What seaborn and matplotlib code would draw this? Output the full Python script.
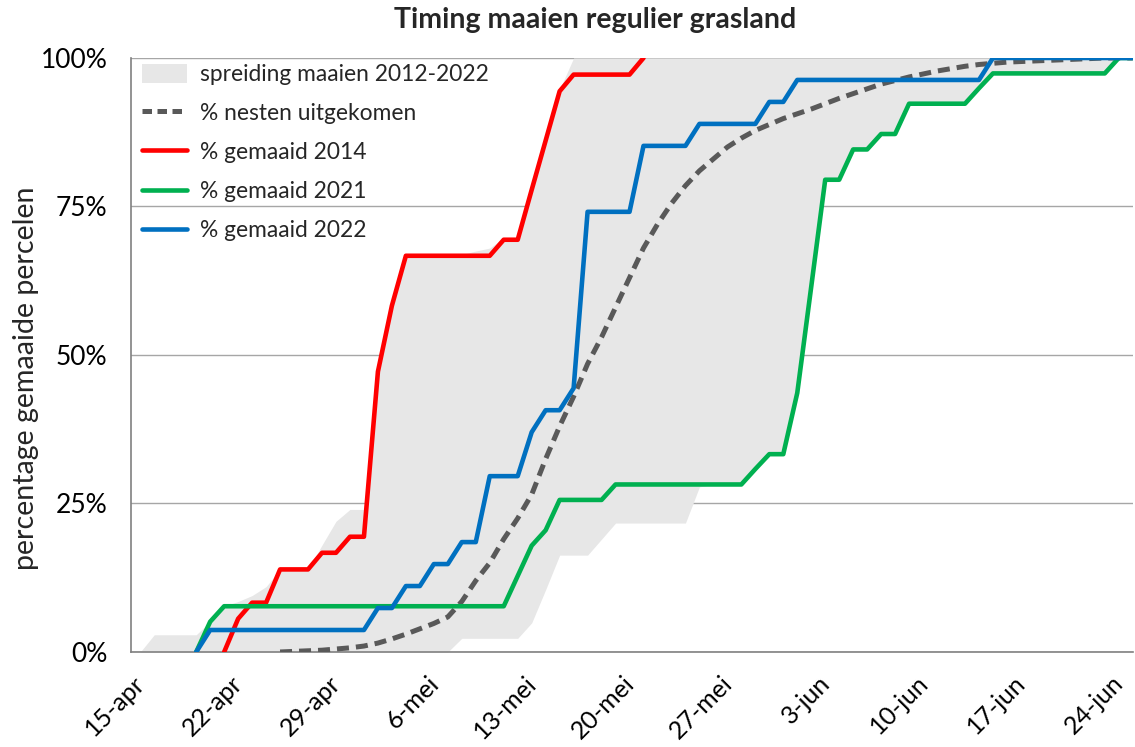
import numpy as np
import pandas as pd
import matplotlib
matplotlib.use("Agg")
import matplotlib.pyplot as plt
import matplotlib.dates as mdates
from matplotlib.patches import Patch
from matplotlib.lines import Line2D
import seaborn as sns

# ---------------- data (day index d = days since 15-apr, values in %) ----------------
start_date = "2022-04-15"

red_days = list(range(6, 37))
red_vals = [0, 5.6, 8.3, 8.3, 13.9, 13.9, 13.9, 16.7, 16.7, 19.4, 19.4, 47.2, 58.3, 66.7,
            66.7, 66.7, 66.7, 66.7, 66.7, 66.7, 69.4, 69.4, 77.8, 86.1, 94.4, 97.2,
            97.2, 97.2, 97.2, 97.2, 100]

green_days = list(range(4, 72))
green_vals = [0, 5.1, 7.7, 7.7, 7.7, 7.7, 7.7, 7.7, 7.7, 7.7, 7.7, 7.7, 7.7, 7.7, 7.7, 7.7,
              7.7, 7.7, 7.7, 7.7, 7.7, 7.7, 7.7, 12.8, 17.9, 20.5, 25.6, 25.6, 25.6, 25.6,
              28.2, 28.2, 28.2, 28.2, 28.2, 28.2, 28.2, 28.2, 28.2, 28.2, 30.8, 33.3, 33.3,
              43.6, 61.5, 79.5, 79.5, 84.6, 84.6, 87.2, 87.2, 92.3, 92.3, 92.3, 92.3, 92.3,
              94.9, 97.4, 97.4, 97.4, 97.4, 97.4, 97.4, 97.4, 97.4, 97.4, 100, 100]

blue_days = list(range(4, 72))
blue_vals = [0, 3.7, 3.7, 3.7, 3.7, 3.7, 3.7, 3.7, 3.7, 3.7, 3.7, 3.7, 3.7, 7.4, 7.4, 11.1,
             11.1, 14.8, 14.8, 18.5, 18.5, 29.6, 29.6, 29.6, 37.0, 40.7, 40.7, 44.4, 74.1,
             74.1, 74.1, 74.1, 85.2, 85.2, 85.2, 85.2, 88.9, 88.9, 88.9, 88.9, 88.9, 92.6,
             92.6, 96.3, 96.3, 96.3, 96.3, 96.3, 96.3, 96.3, 96.3, 96.3, 96.3, 96.3, 96.3,
             96.3, 96.3, 100, 100, 100, 100, 100, 100, 100, 100, 100, 100, 100]

nest_days = list(range(10, 72))
nest_vals = [0, 0.1, 0.2, 0.3, 0.5, 0.7, 1.0, 1.5, 2.2, 3.0, 3.9, 4.8, 5.9, 8.5, 12, 15, 19,
             22.5, 26.5, 32.5, 38, 43, 48.5, 53, 58, 63, 68, 72, 75.5, 78.5, 81, 83, 85,
             86.5, 87.8, 88.8, 89.8, 90.6, 91.4, 92.3, 93.2, 94, 94.8, 95.6, 96.2, 96.8,
             97.3, 97.8, 98.2, 98.6, 98.9, 99.1, 99.3, 99.4, 99.5, 99.6, 99.7, 99.8, 99.9,
             100, 100, 100]

band_days = list(range(0, 72))
band_upper = [0, 2.9, 2.9, 2.9, 2.9, 5.1, 7.7, 8.5, 9.5, 11, 13.9, 13.9, 13.9, 18, 22, 24,
              24, 47.5, 58.5, 66.9, 66.9, 66.9, 66.9, 66.9, 67.5, 68, 69.7, 69.7, 78.5, 87,
              94.7, 100] + [100] * 40
band_lower = [0] * 23 + [2.3, 2.3, 2.3, 2.3, 2.3, 4.9, 10.5, 16.3, 16.3, 16.3, 19, 21.7,
                         21.7, 21.7, 21.7, 21.7, 21.7, 27.8, 28.2, 28.2, 28.2, 30.8, 33.3,
                         33.3, 43.6, 61.5, 79.5, 79.5, 84.6, 84.6, 87.2, 87.2, 92.3, 92.3,
                         92.3, 92.3, 92.3, 94.9, 97.4, 97.4, 97.4, 97.4, 97.4, 97.4, 97.4,
                         97.4, 97.4, 100, 100]

tick_labels = ["15-apr", "22-apr", "29-apr", "6-mei", "13-mei", "20-mei", "27-mei",
               "3-jun", "10-jun", "17-jun", "24-jun"]
y_ticks = [0, 25, 50, 75, 100]

title = "Timing maaien regulier grasland"
ylabel = "percentage gemaaide percelen"
labels = ["spreiding maaien 2012-2022", "% nesten uitgekomen", "% gemaaid 2014",
          "% gemaaid 2021", "% gemaaid 2022"]

# ---------------- helpers ----------------
t0 = pd.Timestamp(start_date)


def to_dates(days):
    # Excel-style category placement: each day's value sits in the middle of the day
    return [t0 + pd.Timedelta(days=d) + pd.Timedelta(hours=12) for d in days]


sns.set_style("white")
plt.rcParams["font.family"] = ["Lato", "DejaVu Sans"]

fig = plt.figure(figsize=(11.35, 7.47), dpi=100)
ax = fig.add_axes([0.1154, 0.1272, 0.8826, 0.7952])

c_band = "#E7E7E7"
c_nest = "#595959"
c_red = "#FF0000"
c_green = "#00B050"
c_blue = "#0070C0"

ax.fill_between(to_dates(band_days), band_lower, band_upper, color=c_band, lw=0,
                zorder=1)

df_nest = pd.DataFrame({"date": to_dates(nest_days), "val": nest_vals})
df_red = pd.DataFrame({"date": to_dates(red_days), "val": red_vals})
df_green = pd.DataFrame({"date": to_dates(green_days), "val": green_vals})
df_blue = pd.DataFrame({"date": to_dates(blue_days), "val": blue_vals})

sns.lineplot(data=df_nest, x="date", y="val", ax=ax, color=c_nest, lw=3.6,
             dashes=False, zorder=3)
ax.lines[-1].set_dashes([2.4, 1.4])
ax.lines[-1].set_dash_capstyle("butt")
sns.lineplot(data=df_red, x="date", y="val", ax=ax, color=c_red, lw=3.3, zorder=4)
sns.lineplot(data=df_green, x="date", y="val", ax=ax, color=c_green, lw=3.3, zorder=4)
sns.lineplot(data=df_blue, x="date", y="val", ax=ax, color=c_blue, lw=3.3, zorder=5)

# axes
ax.set_xlim(t0 - pd.Timedelta(hours=4), t0 + pd.Timedelta(days=71.5))
ax.set_ylim(0, 100)
tick_pos = [t0 + pd.Timedelta(days=7 * i) for i in range(len(tick_labels))]
ax.set_xticks(tick_pos)
ax.set_xticklabels(tick_labels, rotation=45, ha="right", va="top",
                   rotation_mode="anchor", fontsize=18, color="#000000")
ax.set_yticks(y_ticks)
ax.set_yticklabels([f"{v}%" for v in y_ticks], fontsize=19, color="#000000")
ax.tick_params(axis="x", direction="out", length=7, width=1, color="#808080", pad=7)
ax.tick_params(axis="y", direction="out", length=6, width=1, color="#808080", pad=11)
ax.set_xlabel("")
ax.set_ylabel(ylabel, fontsize=20.6)
ax.yaxis.set_label_coords(-0.092, 0.46)

ax.grid(axis="y", color="#A6A6A6", lw=1)
ax.grid(axis="x", visible=False)
for s in ["top", "right"]:
    ax.spines[s].set_visible(False)
for s in ["left", "bottom"]:
    ax.spines[s].set_color("#808080")
    ax.spines[s].set_linewidth(1.2)
ax.set_axisbelow(True)

fig.suptitle(title, fontsize=20.5, fontweight="bold", x=0.524, y=0.99)

handles = [
    Patch(facecolor=c_band, edgecolor="none"),
    Line2D([0], [0], color=c_nest, lw=3.6, dashes=[1.9, 1.1]),
    Line2D([0], [0], color=c_red, lw=3.3),
    Line2D([0], [0], color=c_green, lw=3.3),
    Line2D([0], [0], color=c_blue, lw=3.3),
]
leg = ax.legend(handles, labels, loc="upper left", bbox_to_anchor=(0.005, 1.0),
                frameon=False, fontsize=16.4, handlelength=2.0, handleheight=0.9,
                labelspacing=0.78, handletextpad=0.57, borderaxespad=0.0,
                borderpad=0.25)

fig.savefig("out.png", dpi=100)
